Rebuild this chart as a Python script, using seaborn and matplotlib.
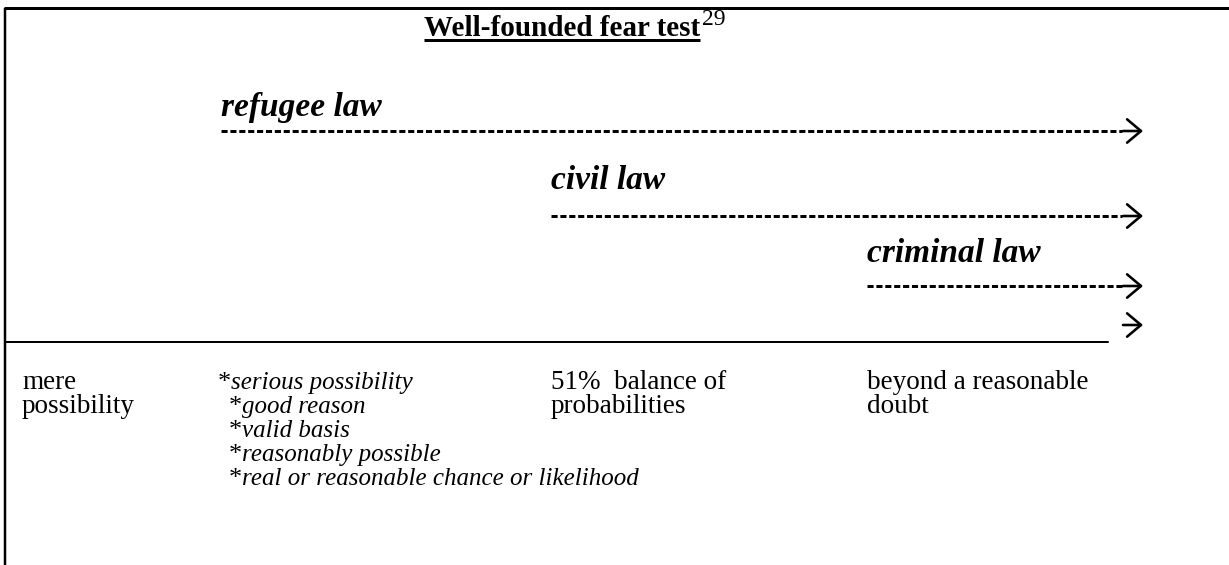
import matplotlib
matplotlib.use('Agg')
import matplotlib.pyplot as plt
import seaborn as sns

# Diagram content
title = 'Well-founded fear test'
footnote = '29'
standards = ['refugee law', 'civil law', 'criminal law']
standard_start = [1, 2, 3]          # column on the proof scale where each standard begins
scale_points = [['mere', 'possibility'], [], ['51%  balance of', 'probabilities'],
                ['beyond a reasonable', 'doubt']]
refugee_terms = ['serious possibility', 'good reason', 'valid basis',
                 'reasonably possible', 'real or reasonable chance or likelihood']

# Layout (pixel space of the page)
W, H = 1229, 565
col_x = [22, 221, 551, 867]
label_y = [116, 189, 262]
dash_y = [131, 216, 286]
axis_y = 342
line_end = 1122
arrow_start = 1123
arrow_end = 1143
scale_y = 389
row_gap = 24

sns.set_theme(style='white')
plt.rcParams['font.family'] = ['Liberation Serif', 'DejaVu Serif']
plt.rcParams['text.color'] = 'black'
plt.rcParams['lines.scale_dashes'] = False

fig = plt.figure(figsize=(W / 100, H / 100), dpi=100)
ax = fig.add_axes([0, 0, 1, 1])
ax.set_xlim(0, W)
ax.set_ylim(H, 0)
ax.axis('off')
renderer = fig.canvas.get_renderer()
px = 0.72  # points per pixel

# Page frame (top rule and left rule)
ax.plot([4, W], [8, 8], color='black', lw=3 * px, solid_capstyle='butt')
ax.plot([5, 5], [8, H], color='black', lw=2.5 * px, solid_capstyle='butt')

# Title with underline and footnote marker
t = ax.text(562, 36, title, ha='center', va='baseline', fontsize=21, fontweight='bold')
bb = t.get_window_extent(renderer).transformed(ax.transData.inverted())
ax.plot([bb.x0, bb.x1], [40, 40], color='black', lw=3 * px, solid_capstyle='butt')
ax.text(bb.x1 + 2, 25, footnote, ha='left', va='baseline', fontsize=17)


def arrow(y):
    ax.annotate('', xy=(arrow_end, y), xytext=(arrow_start, y),
                arrowprops=dict(arrowstyle='->,head_length=0.5,head_width=0.42',
                                lw=2.6 * px, color='black', mutation_scale=20,
                                shrinkA=0, shrinkB=0))


# Standards of proof: dashed ranges starting at their threshold
for name, start, ly, dy in zip(standards, standard_start, label_y, dash_y):
    ax.text(col_x[start], ly, name, ha='left', va='baseline', fontsize=24,
            fontweight='bold', fontstyle='italic')
    sns.lineplot(x=[col_x[start], line_end], y=[dy, dy], ax=ax, color='black',
                 lw=3 * px, linestyle=(0, (4.4, 2.0)), estimator=None, sort=False)
    arrow(dy)

# Probability axis
arrow(325)
sns.lineplot(x=[5, 1108], y=[axis_y, axis_y], ax=ax, color='black',
             lw=2 * px, estimator=None, sort=False)

# Labels along the axis
for i, lines in enumerate(scale_points):
    for j, txt in enumerate(lines):
        ax.text(col_x[i], scale_y + j * row_gap, txt, ha='left', va='baseline',
                fontsize=19.5)

# Refugee law wording
for i, term in enumerate(refugee_terms):
    x = col_x[1] - 3 if i == 0 else col_x[1] + 8
    y = scale_y + i * row_gap
    star = ax.text(x, y, '*', ha='left', va='baseline', fontsize=19)
    sb = star.get_window_extent(renderer).transformed(ax.transData.inverted())
    ax.text(sb.x1, y, term, ha='left', va='baseline', fontsize=18, fontstyle='italic')

fig.savefig('out.png', dpi=100)
